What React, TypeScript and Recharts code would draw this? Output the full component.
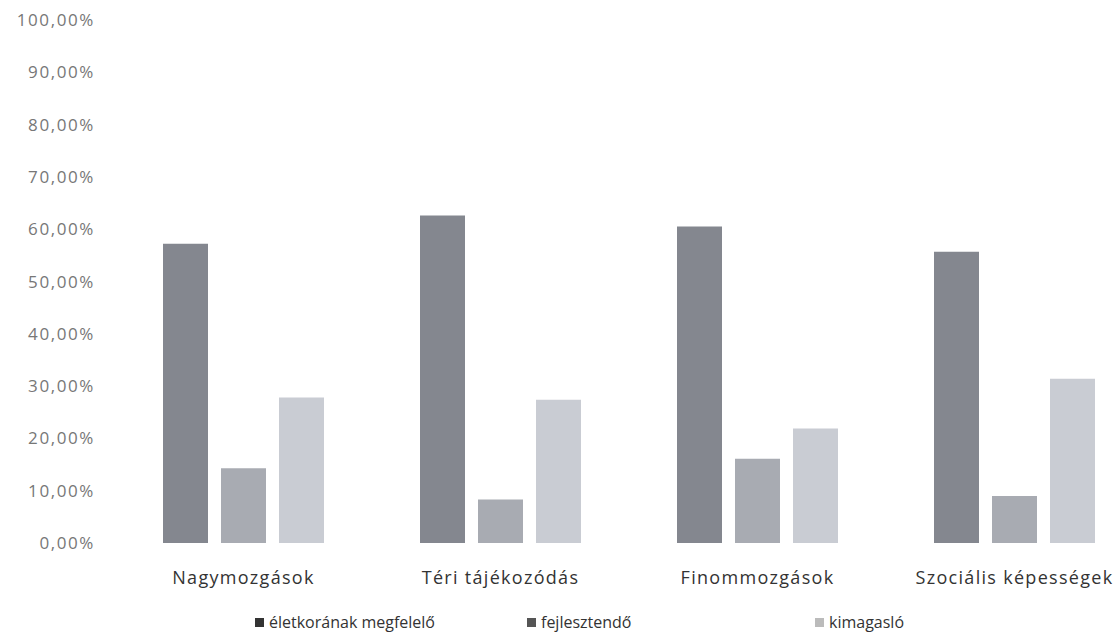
import { BarChart, Bar, XAxis, YAxis } from "recharts";

const categories = ["Nagymozgások", "Téri tájékozódás", "Finommozgások", "Szociális képességek"];
const megfelelo = [57.2, 62.6, 60.5, 55.7];
const fejlesztendo = [14.3, 8.3, 16.1, 9.0];
const kimagaslo = [27.8, 27.4, 21.9, 31.4];
const yTicks = [0, 10, 20, 30, 40, 50, 60, 70, 80, 90, 100];

const series = [
  { key: "megfelelo", name: "életkorának megfelelő", color: "#84878f", mark: "#333" },
  { key: "fejlesztendo", name: "fejlesztendő", color: "#a8abb2", mark: "#555" },
  { key: "kimagaslo", name: "kimagasló", color: "#c9ccd3", mark: "#bbb" },
];

const data = categories.map((name, i) => ({
  name,
  megfelelo: megfelelo[i],
  fejlesztendo: fejlesztendo[i],
  kimagaslo: kimagaslo[i],
}));

const font = "'Open Sans', 'DejaVu Sans', sans-serif";

function fmt(v: number) {
  return v.toFixed(2).replace(".", ",") + "%";
}

export default function App() {
  return (
    <div
      style={{
        position: "absolute",
        left: 0,
        top: 0,
        width: 1120,
        height: 642,
        overflow: "hidden",
        background: "#fff",
        fontFamily: font,
      }}
    >
      <BarChart
        width={1150}
        height={642}
        data={data}
        margin={{ top: 20, right: 7, bottom: 69, left: 0 }}
        barSize={45}
        barGap={13}
      >
        <XAxis
          dataKey="name"
          axisLine={false}
          tickLine={false}
          tickMargin={22}
          interval={0}
          tick={{ fill: "#333", fontSize: 18, fontFamily: font, letterSpacing: 1.3 }}
        />
        <YAxis
          width={115}
          domain={[0, 100]}
          ticks={yTicks}
          axisLine={false}
          tickLine={false}
          tickMargin={14}
          tickFormatter={fmt}
          tick={{ fill: "#777", fontSize: 17, fontFamily: font, letterSpacing: 1.6 }}
        />
        {series.map((s) => (
          <Bar key={s.key} dataKey={s.key} name={s.name} fill={s.color} isAnimationActive={false} />
        ))}
      </BarChart>
      <div style={{ position: "absolute", top: 611, left: 0, width: 1120, height: 24 }}>
        {series.map((s, i) => (
          <div
            key={s.key}
            style={{
              position: "absolute",
              left: [255, 527, 815][i],
              top: 0,
              display: "flex",
              alignItems: "center",
              fontSize: 16,
              color: "#333",
              whiteSpace: "nowrap",
            }}
          >
            <span style={{ width: 9, height: 9, background: s.mark, marginRight: 5, display: "inline-block" }} />
            {s.name}
          </div>
        ))}
      </div>
    </div>
  );
}
